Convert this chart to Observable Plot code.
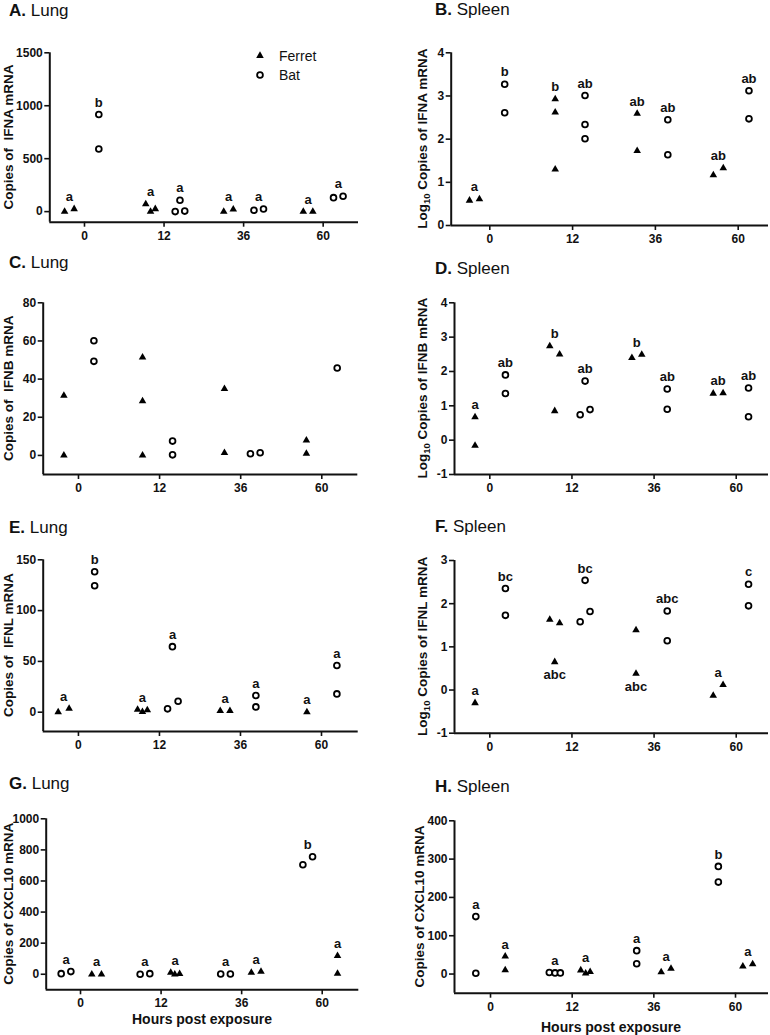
<!DOCTYPE html>
<html><head><meta charset="utf-8">
<script src="https://cdn.jsdelivr.net/npm/d3@7"></script>
<script src="https://cdn.jsdelivr.net/npm/@observablehq/plot@0.6"></script>
<style>
html,body{margin:0;padding:0;background:#fff;}
#root{position:relative;width:770px;height:1035px;overflow:hidden;background:#fff;}
#root svg{position:absolute;overflow:visible;}
</style></head><body><div id="root"></div>
<script>
// ---------------- DATA ----------------
const hourLabels = ["0", "12", "36", "60"];

// A. Lung IFNA (copies)
const A_ferret = [[0, 25], [72, 0, 25], [0, 22], [0, 0]];
const A_ferretDx = [[-0.25, -0.13], [-0.23, -0.17, -0.11], [-0.25, -0.13], [-0.25, -0.13]];
const A_ferretLetters = ["a", "a", "a", "a"];
const A_bat = [[917, 592], [0, 107, 5], [13, 25], [132, 145]];
const A_batDx = [[0.18, 0.18], [0.14, 0.2, 0.26], [0.13, 0.25], [0.13, 0.25]];
const A_batLetters = ["b", "a", "a", "a"];

// B. Spleen IFNA (log10)
const B_ferret = [[0.58, 0.61], [2.93, 2.62, 1.30], [2.59, 1.73], [1.17, 1.33]];
const B_ferretDx = [[-0.245, -0.125], [-0.21, -0.21, -0.21], [-0.22, -0.22], [-0.30, -0.18]];
const B_ferretLetters = ["a", "b", "ab", "ab"];
const B_bat = [[3.27, 2.61], [3.01, 2.34, 2.01], [2.45, 1.64], [3.12, 2.47]];
const B_batDx = [[0.18, 0.18], [0.15, 0.15, 0.15], [0.15, 0.15], [0.13, 0.13]];
const B_batLetters = ["b", "ab", "ab", "ab"];

// C. Lung IFNB (copies)
const C_ferret = [[31.4, 0], [51.4, 28.5, 0], [34.9, 1.4], [7.9, 1.0]];
const C_ferretDx = [[-0.18, -0.18], [-0.21, -0.21, -0.21], [-0.2, -0.2], [-0.19, -0.19]];
const C_bat = [[60.1, 49.3], [7.5, 0.3], [0.9, 1.4], [45.8]];
const C_batDx = [[0.19, 0.19], [0.16, 0.16], [0.12, 0.24], [0.19]];

// D. Spleen IFNB (log10)
const D_ferret = [[0.67, -0.16], [2.74, 2.50, 0.85], [2.40, 2.49], [1.36, 1.37]];
const D_ferretDx = [[-0.18, -0.18], [-0.27, -0.15, -0.21], [-0.27, -0.15], [-0.28, -0.16]];
const D_ferretLetters = ["a", "b", "b", "ab"];
const D_bat = [[1.90, 1.36], [0.74, 1.72, 0.89], [1.49, 0.90], [1.52, 0.68]];
const D_batDx = [[0.19, 0.19], [0.10, 0.16, 0.22], [0.16, 0.16], [0.15, 0.15]];
const D_batLetters = ["ab", "ab", "ab", "ab"];

// E. Lung IFNL (copies)
const E_ferret = [[0, 3.6], [2.6, 0.3, 2], [1.3, 1.3], [0]];
const E_ferretDx = [[-0.25, -0.115], [-0.27, -0.21, -0.15], [-0.25, -0.13], [-0.18]];
const E_ferretLetters = ["a", "a", "a", "a"];
const E_bat = [[138.2, 124.5], [3.3, 64.5, 10.8], [16.4, 5.2], [45.9, 18.0]];
const E_batDx = [[0.2, 0.2], [0.10, 0.16, 0.23], [0.19, 0.19], [0.19, 0.19]];
const E_batLetters = ["b", "a", "a", "a"];

// F. Spleen IFNL (log10)
const F_ferret = [[-0.30], [1.63, 1.55, 0.65], [1.39, 0.38], [-0.13, 0.12]];
const F_ferretDx = [[-0.18], [-0.27, -0.15, -0.21], [-0.22, -0.22], [-0.28, -0.16]];
const F_ferretLetters = ["a", "abc", "abc", "a"];
const F_ferretLetterSide = ["above", "below", "below", "above"];
const F_bat = [[2.35, 1.73], [1.58, 2.54, 1.82], [1.83, 1.14], [2.45, 1.95]];
const F_batDx = [[0.19, 0.19], [0.10, 0.16, 0.22], [0.16, 0.16], [0.15, 0.15]];
const F_batLetters = ["bc", "bc", "abc", "c"];

// G. Lung CXCL10 (copies)
const G_bat = [[4, 17], [0, 4], [2, 2], [704, 756]];
const G_batDx = [[-0.24, -0.12], [-0.26, -0.14], [-0.26, -0.14], [-0.24, -0.12]];
const G_batLetters = ["a", "a", "a", "b"];
const G_ferret = [[0, 0], [11, 0, 2], [11, 17], [118, 4]];
const G_ferretDx = [[0.14, 0.26], [0.12, 0.17, 0.23], [0.12, 0.24], [0.19, 0.19]];
const G_ferretLetters = ["a", "a", "a", "a"];

// H. Spleen CXCL10 (copies)
const H_bat = [[150, 2], [4, 3, 3], [61, 27], [281, 240]];
const H_batDx = [[-0.18, -0.18], [-0.28, -0.21, -0.145], [-0.21, -0.21], [-0.21, -0.21]];
const H_batLetters = ["a", "a", "a", "b"];
const H_ferret = [[46, 10.5], [10, 2, 6], [5, 14], [20, 26]];
const H_ferretDx = [[0.18, 0.18], [0.105, 0.165, 0.22], [0.09, 0.21], [0.09, 0.21]];
const H_ferretLetters = ["a", "a", "a", "a"];

const panelDefs = [
  {id: "A", tissue: "Lung", label: "Copies of  IFNA mRNA", log: false, yDomain: [-100, 1500], yTicks: [0, 500, 1000, 1500],
   ferret: A_ferret, ferretDx: A_ferretDx, ferretLetters: A_ferretLetters, bat: A_bat, batDx: A_batDx, batLetters: A_batLetters, legend: true},
  {id: "B", tissue: "Spleen", label: "Copies of IFNA mRNA", log: true, yDomain: [0, 4], yTicks: [0, 1, 2, 3, 4],
   ferret: B_ferret, ferretDx: B_ferretDx, ferretLetters: B_ferretLetters, bat: B_bat, batDx: B_batDx, batLetters: B_batLetters},
  {id: "C", tissue: "Lung", label: "Copies of  IFNB mRNA", log: false, yDomain: [-10, 80], yTicks: [0, 20, 40, 60, 80],
   ferret: C_ferret, ferretDx: C_ferretDx, bat: C_bat, batDx: C_batDx},
  {id: "D", tissue: "Spleen", label: "Copies of IFNB mRNA", log: true, yDomain: [-1, 4], yTicks: [-1, 0, 1, 2, 3, 4],
   ferret: D_ferret, ferretDx: D_ferretDx, ferretLetters: D_ferretLetters, bat: D_bat, batDx: D_batDx, batLetters: D_batLetters},
  {id: "E", tissue: "Lung", label: "Copies of  IFNL mRNA", log: false, yDomain: [-19, 150], yTicks: [0, 50, 100, 150],
   ferret: E_ferret, ferretDx: E_ferretDx, ferretLetters: E_ferretLetters, bat: E_bat, batDx: E_batDx, batLetters: E_batLetters},
  {id: "F", tissue: "Spleen", label: "Copies of IFNL mRNA", log: true, yDomain: [-1, 3], yTicks: [-1, 0, 1, 2, 3],
   ferret: F_ferret, ferretDx: F_ferretDx, ferretLetters: F_ferretLetters, ferretLetterSide: F_ferretLetterSide, bat: F_bat, batDx: F_batDx, batLetters: F_batLetters},
  {id: "G", tissue: "Lung", label: "Copies of CXCL10 mRNA", log: false, yDomain: [-100, 1000], yTicks: [0, 200, 400, 600, 800, 1000],
   ferret: G_ferret, ferretDx: G_ferretDx, ferretLetters: G_ferretLetters, bat: G_bat, batDx: G_batDx, batLetters: G_batLetters, xTitle: "Hours post exposure"},
  {id: "H", tissue: "Spleen", label: "Copies of CXCL10 mRNA", log: false, yDomain: [-50, 400], yTicks: [0, 100, 200, 300, 400],
   ferret: H_ferret, ferretDx: H_ferretDx, ferretLetters: H_ferretLetters, bat: H_bat, batDx: H_batDx, batLetters: H_batLetters, xTitle: "Hours post exposure"}
];

// ---------------- LAYOUT ----------------
const layout = {
  A: {left: 49.3, right: 358, top: 52.3, bottom: 221.7, xDomain: [-0.436, 3.444], titleY: 15.5, ylabelX: 8},
  B: {left: 450.7, right: 768, top: 52.3, bottom: 225, xDomain: [-0.466, 3.366], titleY: 15, ylabelX: 422},
  C: {left: 42.7, right: 357.3, top: 302.3, bottom: 474, xDomain: [-0.435, 3.444], titleY: 267.5, ylabelX: 8},
  D: {left: 454, right: 768, top: 302.3, bottom: 474, xDomain: [-0.43, 3.393], titleY: 274, ylabelX: 422},
  E: {left: 42.7, right: 357.7, top: 559.3, bottom: 731, xDomain: [-0.435, 3.453], titleY: 532.5, ylabelX: 8},
  F: {left: 454, right: 768, top: 560, bottom: 732.7, xDomain: [-0.43, 3.393], titleY: 531.5, ylabelX: 422},
  G: {left: 45.7, right: 358.3, top: 818.3, bottom: 989.3, xDomain: [-0.426, 3.454], titleY: 789, ylabelX: 8, xlabelY: 1024},
  H: {left: 454, right: 768, top: 820.3, bottom: 992.7, xDomain: [-0.441, 3.404], titleY: 792, ylabelX: 419.5, xlabelY: 1031.5}
};
const rowTop = [0, 255, 510, 770], rowH = [255, 255, 260, 265];
const FONT = "'Liberation Sans', Arial, Helvetica, sans-serif";
const INK = "#111";
const TRI_R = 2.8, CIRC_R = 2.9, CIRC_SW = 1.8;

const root = document.getElementById("root");

panelDefs.forEach((p, k) => {
  const L = layout[p.id];
  const col = k % 2, row = Math.floor(k / 2);
  const ox = col * 385, oy = rowTop[row], W = 385, H = rowH[row];
  const pts = [], letters = [];
  [["Ferret", p.ferret, p.ferretDx, p.ferretLetters, p.ferretLetterSide],
   ["Bat", p.bat, p.batDx, p.batLetters, p.batLetterSide]].forEach(([sp, vals, dxs, lets, side]) => {
    vals.forEach((arr, i) => {
      arr.forEach((v, j) => pts.push({species: sp, x: i + dxs[i][j], y: v}));
      if (lets && lets[i]) {
        const below = side && side[i] === "below";
        letters.push({x: i + d3.mean(dxs[i]), y: below ? d3.min(arr) : d3.max(arr), text: lets[i], below});
      }
    });
  });

  const chart = Plot.plot({
    width: W, height: H,
    marginLeft: L.left - ox, marginRight: ox + W - L.right,
    marginTop: L.top - oy, marginBottom: oy + H - L.bottom,
    x: {domain: L.xDomain},
    y: {domain: p.yDomain},
    style: {fontFamily: FONT, fontSize: "12px", fontWeight: "bold", color: INK, background: "transparent", overflow: "visible"},
    marks: [
      Plot.axisY({ticks: p.yTicks, tickFormat: d => String(d), tickSize: 5, tickPadding: 2, label: null, strokeWidth: 1.6}),
      Plot.axisX({ticks: [0, 1, 2, 3], tickFormat: i => hourLabels[i], tickSize: 5, tickPadding: 4, label: null, strokeWidth: 1.6}),
      Plot.ruleX([L.xDomain[0]], {stroke: INK, strokeWidth: 2}),
      Plot.ruleY([p.yDomain[0]], {stroke: INK, strokeWidth: 2}),
      Plot.dot(pts.filter(d => d.species === "Ferret"), {x: "x", y: "y", symbol: "triangle", r: TRI_R, fill: "#000"}),
      Plot.dot(pts.filter(d => d.species === "Bat"), {x: "x", y: "y", symbol: "circle", r: CIRC_R, fill: "#fff", stroke: "#000", strokeWidth: CIRC_SW}),
      Plot.text(letters.filter(d => !d.below), {x: "x", y: "y", text: "text", dy: -12, fontSize: 13, fontWeight: "bold", fill: INK}),
      Plot.text(letters.filter(d => d.below), {x: "x", y: "y", text: "text", dy: 13, fontSize: 13, fontWeight: "bold", fill: INK})
    ]
  });
  chart.style.left = ox + "px";
  chart.style.top = oy + "px";
  root.appendChild(chart);
  const svg = d3.select(chart);

  // panel title
  const tx = (col === 0 ? 9 : 435) - ox;
  const t = svg.append("text").attr("x", tx).attr("y", L.titleY - oy)
    .attr("text-anchor", "start")
    .attr("font-family", FONT).attr("font-size", 17).attr("fill", INK);
  t.append("tspan").attr("font-weight", "bold").text(p.id + ".");
  t.append("tspan").attr("font-weight", "normal").text(" " + p.tissue);

  // y axis title
  const cy = (L.top + L.bottom) / 2 - oy;
  const yl = svg.append("text")
    .attr("transform", `translate(${L.ylabelX - ox},${cy}) rotate(-90)`)
    .attr("text-anchor", "middle").attr("dy", "0.35em")
    .attr("font-family", FONT).attr("font-size", 13.5).attr("font-weight", "bold").attr("fill", INK)
    .style("white-space", "pre");
  if (p.log) {
    yl.append("tspan").text("Log");
    yl.append("tspan").attr("font-size", 9.5).attr("dy", 3.5).text("10");
    yl.append("tspan").attr("dy", -3.5).text(" " + p.label);
  } else {
    yl.append("tspan").text(p.label);
  }

  // x axis title
  if (p.xTitle) {
    svg.append("text").attr("x", (L.left + L.right) / 2 - ox).attr("y", L.xlabelY - oy)
      .attr("text-anchor", "middle").attr("font-family", FONT).attr("font-size", 14)
      .attr("font-weight", "bold").attr("fill", INK).text(p.xTitle);
  }

  // legend
  if (p.legend) {
    const lg = svg.append("g").attr("font-family", FONT).attr("font-size", 14).attr("font-weight", "normal")
      .attr("fill", INK).attr("text-anchor", "start");
    lg.append("path").attr("d", d3.symbol(d3.symbolTriangle, Math.PI * TRI_R * TRI_R)())
      .attr("transform", `translate(${260 - ox},${55.7 - oy})`).attr("fill", "#000");
    lg.append("text").attr("x", 279 - ox).attr("y", 60.7 - oy).text("Ferret");
    lg.append("circle").attr("cx", 260 - ox).attr("cy", 75 - oy).attr("r", CIRC_R)
      .attr("fill", "#fff").attr("stroke", "#000").attr("stroke-width", CIRC_SW);
    lg.append("text").attr("x", 279 - ox).attr("y", 80 - oy).text("Bat");
  }
});
</script>
</body></html>
